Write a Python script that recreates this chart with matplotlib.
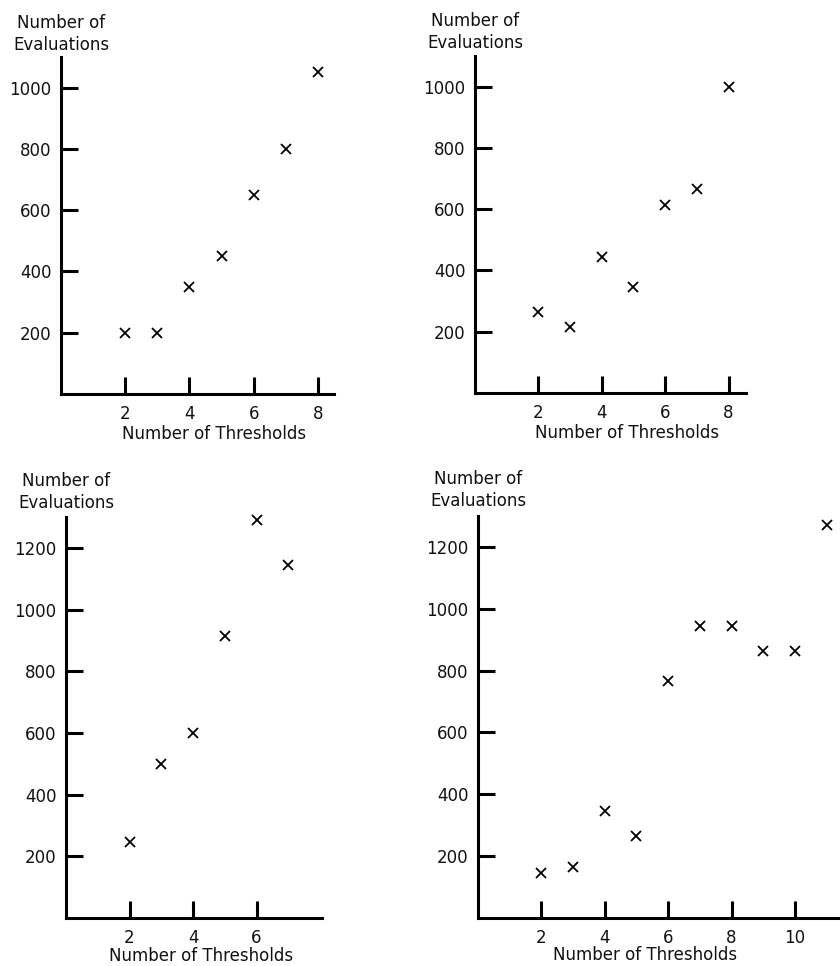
import matplotlib
matplotlib.use("Agg")
import matplotlib.pyplot as plt

plt.rcParams['font.family'] = ['DejaVu Sans']

# Data
thresholds_a = [2, 3, 4, 5, 6, 7, 8]
evals_a = [200, 200, 350, 450, 650, 800, 1050]

thresholds_b = [2, 3, 4, 5, 6, 7, 8]
evals_b = [265, 215, 445, 345, 615, 665, 1000]

thresholds_c = [2, 3, 4, 5, 6, 7]
evals_c = [245, 500, 600, 915, 1290, 1145]

thresholds_d = [2, 3, 4, 5, 6, 7, 8, 9, 10, 11]
evals_d = [145, 165, 345, 265, 765, 945, 945, 865, 865, 1270]

xticks_a = [2, 4, 6, 8]
xticks_c = [2, 4, 6]
xticks_d = [2, 4, 6, 8, 10]
yticks_small = [200, 400, 600, 800, 1000]
yticks_large = [200, 400, 600, 800, 1000, 1200]

W, H = 840, 966
fig = plt.figure(figsize=(W / 100, H / 100), dpi=100)


def px_axes(x0, x1, y_top, y_bot):
    return fig.add_axes([x0 / W, 1 - y_bot / H, (x1 - x0) / W, (y_bot - y_top) / H])


panels = [
    # (x0, x1, ytop, ybot, xlim, ylim, xs, ys, xticks, yticks, xlabel_center_x, xlabel_y, ylabel_top)
    (61, 334, 57, 394, 8.5, 1100, thresholds_a, evals_a, xticks_a, yticks_small, 214, 434, 14),
    (475, 746, 56, 393, 8.55, 1100, thresholds_b, evals_b, xticks_a, yticks_small, 627, 433, 12),
    (66, 322, 517, 918, 8.06, 1300, thresholds_c, evals_c, xticks_c, yticks_large, 201, 956, 472),
    (478, 840, 516, 918, 11.42, 1300, thresholds_d, evals_d, xticks_d, yticks_large, 645, 955, 470),
]

for (x0, x1, yt, yb, xmax, ymax, xs, ys, xt, yt_ticks, xlc, xly, ylt) in panels:
    ax = px_axes(x0, x1, yt, yb)
    ax.plot(xs, ys, linestyle='none', marker='x', markersize=7,
            markeredgewidth=1.3, color='black', clip_on=False)
    ax.set_xlim(0, xmax)
    ax.set_ylim(0, ymax)
    for s in ['top', 'right']:
        ax.spines[s].set_visible(False)
    for s in ['left', 'bottom']:
        ax.spines[s].set_linewidth(2.2)
    ax.set_xticks(xt)
    ax.set_xticklabels([str(v) for v in xt])
    ax.set_yticks(yt_ticks)
    ax.set_yticklabels([str(v) for v in yt_ticks])
    ax.tick_params(axis='both', direction='in', length=12, width=2.2,
                   labelsize=12, color='black', labelcolor='#111111')
    ax.tick_params(axis='x', pad=8)
    ax.tick_params(axis='y', pad=7)
    fig.text(xlc / W, 1 - xly / H, 'Number of Thresholds', ha='center', va='center',
             fontsize=12, color='#111111')
    fig.text(x0 / W, 1 - ylt / H, 'Number of\nEvaluations', ha='center', va='top',
             multialignment='center', fontsize=12, color='#111111', linespacing=1.25)

fig.savefig('out.png', dpi=100)
